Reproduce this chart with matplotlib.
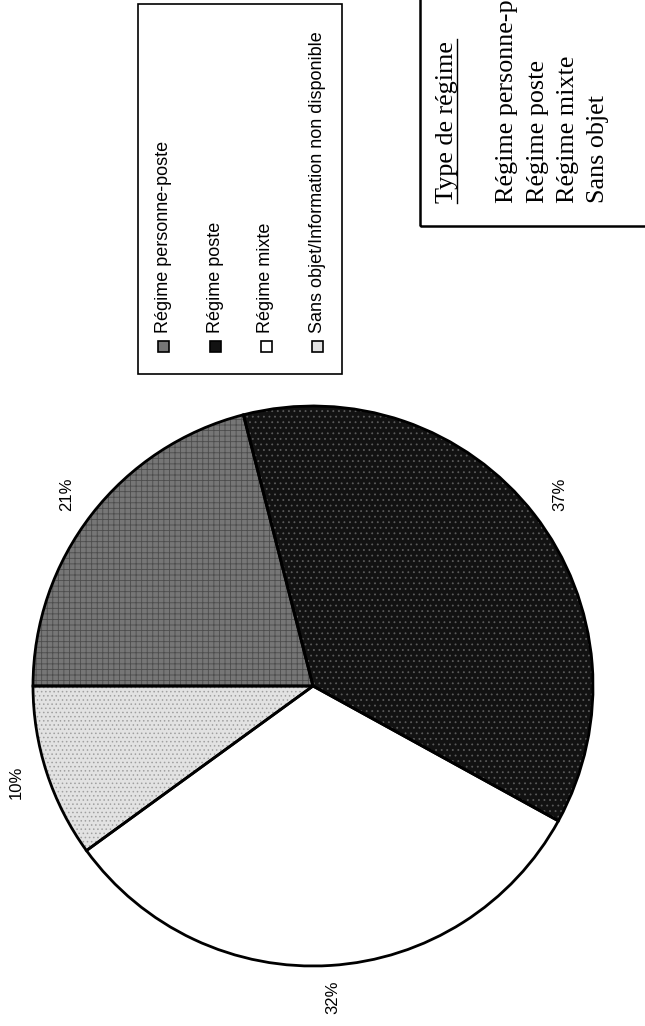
import matplotlib
matplotlib.use("Agg")
import matplotlib.pyplot as plt
from matplotlib.patches import Rectangle
from matplotlib.lines import Line2D

# --- data -------------------------------------------------------------
categories = [
    "Régime personne-poste",
    "Régime poste",
    "Régime mixte",
    "Sans objet/Information non disponible",
]
shares = [21, 37, 32, 10]

box_title = "Type de régime"
box_lines = ["Régime personne-poste", "Régime poste", "Régime mixte", "Sans objet"]

# --- styling ----------------------------------------------------------
face_colors = ["#767676", "#121212", "#ffffff", "#e2e2e2"]
hatch_colors = ["#4c4c4c", "#5a5a5a", "#ffffff", "#a0a0a0"]
hatches = ["+++", "...", "", "...."]

SANS = ["Liberation Sans", "DejaVu Sans"]
SERIF = ["Liberation Serif", "DejaVu Serif"]
plt.rcParams["hatch.linewidth"] = 0.6

W, H = 645, 1026
fig = plt.figure(figsize=(W / 100, H / 100), dpi=100)
fig.patch.set_facecolor("white")


def fx(px):
    return px / W


def fy(py):
    return 1 - py / H


# --- pie --------------------------------------------------------------
cx, cy, r = 313, 686, 280
ax = fig.add_axes([fx(cx - r), fy(cy + r), 2 * r / W, 2 * r / H])

fills, _ = ax.pie(
    shares,
    colors=face_colors,
    startangle=180,
    counterclock=False,
    wedgeprops=dict(linewidth=0),
)
for w, hc, h in zip(fills, hatch_colors, hatches):
    w.set_hatch(h)
    w.set_edgecolor(hc)

outlines, texts = ax.pie(
    shares,
    labels=[f"{v}%" for v in shares],
    labeldistance=1.115,
    startangle=180,
    counterclock=False,
    wedgeprops=dict(facecolor="none", edgecolor="black", linewidth=2.0),
    textprops=dict(fontsize=12, family=SANS),
)
for t in texts:
    t.set_rotation(90)
    t.set_ha("center")
    t.set_va("center")

ax.set_xlim(-1, 1)
ax.set_ylim(-1, 1)
ax.set_aspect("equal")
ax.axis("off")

# --- legend box (rotated entries) --------------------------------------
fig.add_artist(Rectangle((fx(138), fy(374)), (342 - 138) / W, (374 - 4) / H,
                         transform=fig.transFigure, facecolor="none",
                         edgecolor="black", linewidth=1.2))
marker_x = [163, 215, 266, 317]
for xpos, label, fc, hc, h in zip(marker_x, categories, face_colors, hatch_colors, hatches):
    sq = Rectangle((fx(xpos - 5), fy(352)), 11 / W, 11 / H,
                   transform=fig.transFigure, facecolor=fc,
                   edgecolor="black", linewidth=1.2)
    fig.add_artist(sq)
    fig.text(fx(xpos), fy(333), label, rotation=90, rotation_mode="anchor",
             ha="left", va="center", fontsize=13, family=SANS)

# --- side note box ----------------------------------------------------
fig.add_artist(Rectangle((fx(420), fy(226)), (700 - 420) / W, (226 + 40) / H,
                         transform=fig.transFigure, facecolor="none",
                         edgecolor="black", linewidth=1.8, clip_on=False))
fig.text(fx(447), fy(203), box_title, rotation=90, rotation_mode="anchor",
         ha="left", va="center", fontsize=18.8, family=SERIF)
fig.add_artist(Line2D([fx(457), fx(457)], [fy(203), fy(39)],
                      transform=fig.transFigure, color="black", linewidth=1.0))
for xpos, line in zip([507, 538, 568, 598], box_lines):
    fig.text(fx(xpos), fy(203), line, rotation=90, rotation_mode="anchor",
             ha="left", va="center", fontsize=18.8, family=SERIF)

fig.savefig("out.png", dpi=100, facecolor="white")
